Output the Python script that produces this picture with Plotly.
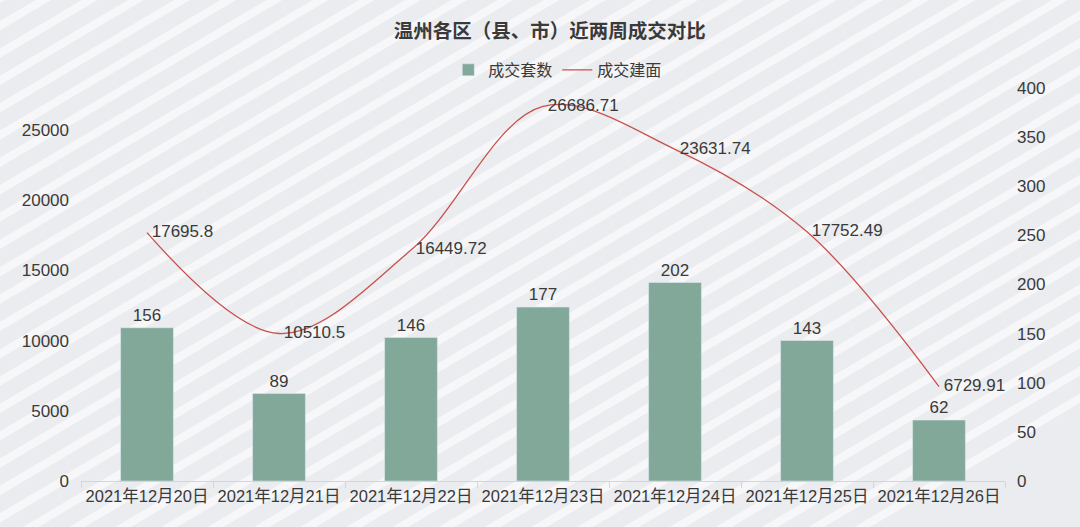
import plotly.graph_objects as go

# 日期、成交套数、成交建面
dates = ["2021年12月20日", "2021年12月21日", "2021年12月22日", "2021年12月23日",
         "2021年12月24日", "2021年12月25日", "2021年12月26日"]
units = [156, 89, 146, 177, 202, 143, 62]
area = ["17695.8", "10510.5", "16449.72", "26686.71", "23631.74", "17752.49", "6729.91"]

FONT = "Liberation Sans, Arial, Noto Sans CJK SC, sans-serif"
CJK = "Noto Sans CJK SC, sans-serif"
TXT = "#3a3a3a"

fig = go.Figure()
fig.add_trace(go.Bar(
    x=dates, y=units, name="成交套数", yaxis="y2",
    marker_color="#82a89a", width=0.4,
    text=[str(v) for v in units], textposition="outside",
    textfont=dict(size=17, color=TXT), cliponaxis=False,
))
fig.add_trace(go.Scatter(
    x=dates, y=[float(v) for v in area], name="成交建面", mode="lines+text",
    line=dict(color="#c9504c", width=1.3, shape="spline", smoothing=1.0),
    text=[" " + t for t in area], textposition="middle right",
    textfont=dict(size=17, color=TXT), cliponaxis=False,
))

# 背景斜纹
shapes = []
for i in range(-24, 22):
    x0 = i * 0.05
    shapes.append(dict(type="line", xref="paper", yref="paper", layer="below",
                       x0=x0 - 0.3, y0=-0.25, x1=x0 + 0.85, y1=1.35,
                       line=dict(color="rgba(255,255,255,0.6)", width=8)))

fig.update_layout(
    width=1080, height=527,
    margin=dict(l=81, r=75, t=88, b=46, autoexpand=False),
    paper_bgcolor="#eaecef", plot_bgcolor="rgba(0,0,0,0)",
    font=dict(family=FONT, size=17, color=TXT),
    title=dict(text="<b>温州各区（县、市）近两周成交对比</b>", x=0.509, y=0.941,
               xanchor="center", yanchor="middle",
               font=dict(size=19.5, color=TXT, family=CJK)),
    legend=dict(orientation="h", x=0.516, xanchor="center", y=1.046, yanchor="middle",
                font=dict(size=16, family=CJK), itemwidth=30,
                bgcolor="rgba(0,0,0,0)", traceorder="normal"),
    showlegend=True,
    shapes=shapes,
    xaxis=dict(showgrid=False, showline=True, linecolor="#d3d5d8", ticks="outside",
               tickson="boundaries", ticklen=6, tickcolor="#d3d5d8", automargin=False,
               tickfont=dict(size=16.5, family=FONT)),
    yaxis=dict(range=[0, 28000], dtick=5000, tickformat="d", showgrid=False,
               zeroline=False, ticklabelstandoff=11, automargin=False,
               tickfont=dict(size=17)),
    yaxis2=dict(range=[0, 400], dtick=50, overlaying="y", side="right",
                showgrid=False, zeroline=False, ticklabelstandoff=11, automargin=False,
                tickfont=dict(size=17)),
)

fig.write_html("out.html", config={"displayModeBar": False},
               post_script="document.body.style.margin='0';")
